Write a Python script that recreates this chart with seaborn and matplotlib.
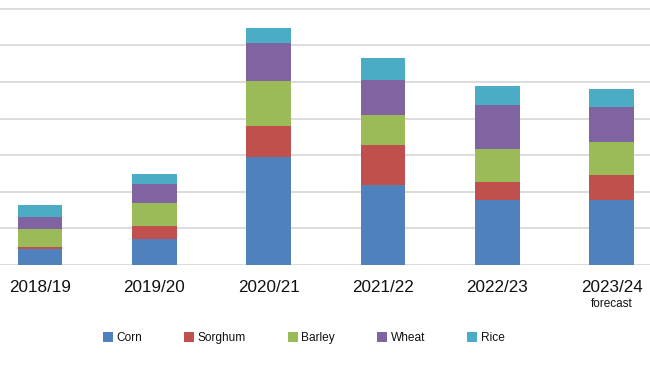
import matplotlib
matplotlib.use("Agg")
import matplotlib.pyplot as plt
import seaborn as sns
import numpy as np
import pandas as pd

seasons = ["2018/19", "2019/20", "2020/21", "2021/22", "2022/23", "2023/24"]
grains = ["Corn", "Sorghum", "Barley", "Wheat", "Rice"]
corn    = [4.3, 7.2, 29.4, 21.8, 17.8, 17.8]
sorghum = [0.55, 3.55, 8.55, 10.9, 5.0, 6.8]
barley  = [5.1, 6.3, 12.2, 8.2, 9.0, 9.1]
wheat   = [3.1, 5.2, 10.5, 9.7, 12.0, 9.5]
rice    = [3.4, 2.7, 4.2, 6.0, 5.0, 5.0]
colors = ["#4f81bd", "#c0504d", "#9bbb59", "#8064a2", "#4bacc6"]

df = pd.DataFrame({"season": seasons, "Corn": corn, "Sorghum": sorghum,
                   "Barley": barley, "Wheat": wheat, "Rice": rice})
cum = df[grains].cumsum(axis=1)

sns.set_theme(style="white")
plt.rcParams["font.family"] = ["Liberation Sans", "DejaVu Sans"]

fig = plt.figure(figsize=(6.5, 3.66), dpi=100)
ax = fig.add_axes([0, 0.276, 1, 0.724])

for g, c in reversed(list(zip(grains, colors))):
    sns.barplot(x=df["season"], y=cum[g], order=seasons, color=c,
                width=0.39, ax=ax, saturation=1, linewidth=0, zorder=3)

ax.set_ylim(0, 72.4)
ax.set_xlim(-0.348, 5.334)
ax.set_yticks(np.arange(0, 71, 10))
ax.yaxis.grid(True, color="#d6d6d6", linewidth=1.2, zorder=0)
ax.set_axisbelow(True)
ax.set_yticklabels([])
ax.tick_params(axis="y", length=0)
for s in ax.spines.values():
    s.set_visible(False)
ax.set_xlabel("")
ax.set_ylabel("")
ax.tick_params(axis="x", length=0, pad=10.5, labelsize=12.3, labelcolor="#111111")
ax.set_xticks(range(len(seasons)))
ax.set_xticklabels(seasons)

ax.annotate("forecast", xy=(5, 0), xycoords=("data", "axes fraction"),
            xytext=(0, -30.5), textcoords="offset points",
            ha="center", va="baseline", fontsize=8.5, color="#111111",
            annotation_clip=False)

handles = [matplotlib.patches.Patch(facecolor=c, edgecolor="none") for c in colors]
fig.legend(handles, grains, loc="center", bbox_to_anchor=(0.467, 0.0765),
           ncol=5, frameon=False, fontsize=8.6, handlelength=0.85,
           handleheight=0.85, handletextpad=0.3, columnspacing=3.5,
           labelcolor="#111111")

fig.savefig("out.png", dpi=100)
